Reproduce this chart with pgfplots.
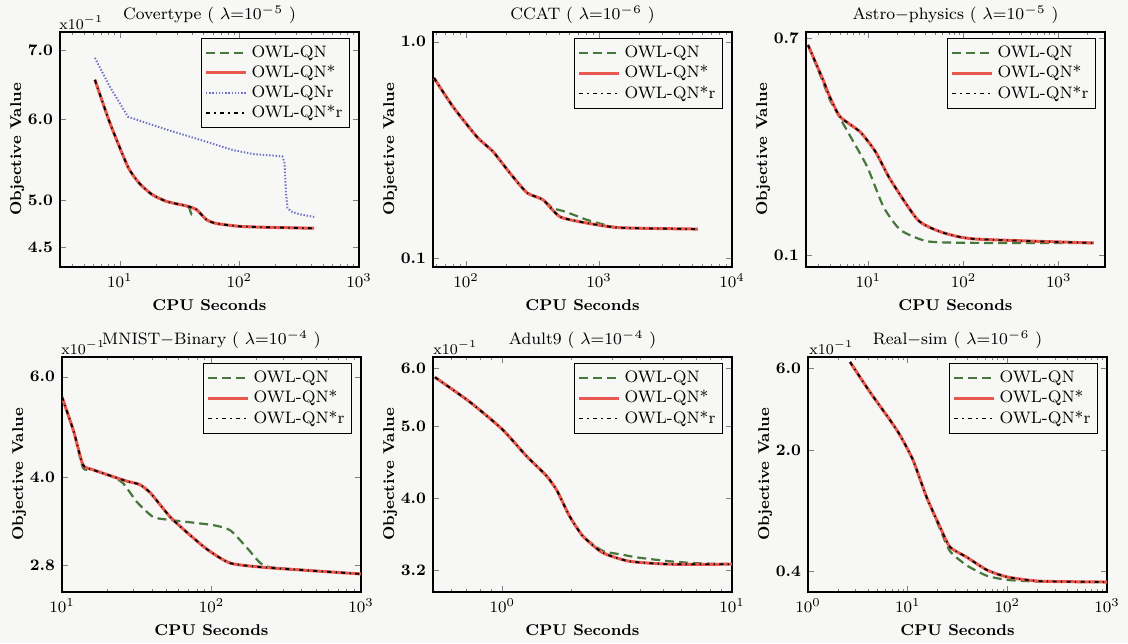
\documentclass[border=0pt]{standalone}
\usepackage{fix-cm}
\usepackage{fontspec}
\usepackage{pgfplots}
\pgfplotsset{compat=1.18}
\newcommand\fsz[1]{\fontsize{#1}{#1}\selectfont}
\definecolor{cgreen}{RGB}{70,120,60}
\definecolor{cred}{RGB}{232,88,78}
\definecolor{cblue}{RGB}{110,115,195}
\definecolor{bgc}{RGB}{247,247,245}
\pgfplotsset{
  every axis/.append style={
    scale only axis, width=149.5pt, height=117.5pt,
    anchor=south west, axis line style={line width=0.8pt},
    major tick length=3pt, minor tick length=1.6pt,
    yminorticks=false,
    tick label style={font=\fsz{8}},
    yticklabel style={font=\fsz{8}\bfseries},
    label style={font=\fsz{7.8}\bfseries},
    xlabel={CPU Seconds}, ylabel={Objective Value},
    ylabel style={yshift=-5pt},
    xlabel style={yshift=1pt},
    title style={font=\fsz{8.3}, yshift=-5.5pt},
    legend style={at={(1,1)}, anchor=north east, xshift=-4.5pt, yshift=-3pt, draw=black, line width=0.6pt, font=\fsz{8.3}, inner sep=1.5pt, row sep=-1.5pt, cells={anchor=west}, fill=bgc},
    legend image code/.code={\draw[##1] (0pt,0pt) -- (20pt,0pt);},
  },
}
\tikzset{
  gs/.style={cgreen, line width=1.1pt, dash pattern=on 4.5pt off 2.5pt, smooth, tension=0.35},
  rs/.style={cred, line width=1.5pt, smooth, tension=0.35},
  bs/.style={cblue, line width=1pt, dash pattern=on 0.7pt off 0.9pt},
  ks/.style={black, line width=0.9pt, dash pattern=on 2pt off 2.2pt on 0.6pt off 2.2pt, smooth, tension=0.35},
  xt/.style={anchor=south west, inner sep=0.5pt, font=\fsz{7.5}},
}
\begin{document}
\begin{tikzpicture}
\useasboundingbox (0,0) rectangle (564pt,321.5pt);
\fill[bgc] (0,0) rectangle (564pt,321.5pt);
% Covertype
\begin{axis}[xmode=log, ymode=log, at={(30pt,188pt)}, xmin=3.16, xmax=1000, ymin=4.31, ymax=7.29,
  ytick={4.5,5,6,7}, yticklabels={4.5,5.0,6.0,7.0}, xtick={10,100,1000},
  minor xtick={4,5,6,7,8,9,20,30,40,50,60,70,80,90,200,300,400,500,600,700,800,900},
  title={Covertype ( $\lambda{=}10^{-5}$ )}]
\addplot[gs] coordinates {(6.19,6.55) (8.25,5.95) (11.7,5.39) (14.5,5.2) (18.5,5.07) (24.6,4.99) (36.1,4.94) (38,4.92) (39.8,4.85) (42,4.89) (43.8,4.90) (53.1,4.79) (64.3,4.75) (100,4.72) (168,4.71) (422,4.70)};
\addplot[rs] coordinates {(6.19,6.55) (8.25,5.95) (11.7,5.39) (14.5,5.2) (18.5,5.07) (24.6,4.99) (36.1,4.94) (43.8,4.90) (53.1,4.79) (64.3,4.75) (100,4.72) (168,4.71) (422,4.70)};
\addplot[bs] coordinates {(6.19,6.88) (8.25,6.45) (11.7,6.03) (24.6,5.86) (46.4,5.73) (87.5,5.60) (128,5.55) (228,5.52) (238,5.45) (245,5.10) (252,4.92) (270,4.88) (316,4.85) (422,4.82)};
\addplot[ks] coordinates {(6.19,6.55) (8.25,5.95) (11.7,5.39) (14.5,5.2) (18.5,5.07) (24.6,4.99) (36.1,4.94) (43.8,4.90) (53.1,4.79) (64.3,4.75) (100,4.72) (168,4.71) (422,4.70)};
\legend{OWL-QN,OWL-QN*,OWL-QNr,OWL-QN*r}
\end{axis}
\node[xt] at (29pt,188.5pt+117.5pt) {x10$^{-1}$};
% CCAT
\begin{axis}[xmode=log, ymode=log, at={(216.5pt,188pt)}, xmin=56.5, xmax=10000, ymin=0.0908, ymax=1.11,
  ytick={0.1,1}, yticklabels={0.1,1.0}, xtick={100,1000,10000},
  minor xtick={60,70,80,90,200,300,400,500,600,700,800,900,2000,3000,4000,5000,6000,7000,8000,9000},
  title={CCAT ( $\lambda{=}10^{-6}$ )}]
\addplot[gs] coordinates {(57.5,0.68) (80,0.50) (121,0.363) (160,0.31) (214,0.247) (288,0.200) (379,0.186) (450,0.17) (535,0.165) (650,0.158) (813,0.150) (1072,0.143) (1439,0.138) (5546,0.136)};
\addplot[rs] coordinates {(57.5,0.68) (80,0.50) (121,0.363) (160,0.31) (214,0.247) (288,0.200) (379,0.186) (509,0.155) (813,0.145) (1439,0.138) (5546,0.136)};
\addplot[ks] coordinates {(57.5,0.68) (80,0.50) (121,0.363) (160,0.31) (214,0.247) (288,0.200) (379,0.186) (509,0.155) (813,0.145) (1439,0.138) (5546,0.136)};
\legend{OWL-QN,OWL-QN*,OWL-QN*r}
\end{axis}
% Astro-physics
\begin{axis}[xmode=log, ymode=log, at={(403pt,188pt)}, xmin=2.21, xmax=3070, ymin=0.0898, ymax=0.738,
  ytick={0.1,0.7}, yticklabels={0.1,0.7}, xtick={10,100,1000},
  minor xtick={3,4,5,6,7,8,9,20,30,40,50,60,70,80,90,200,300,400,500,600,700,800,900,2000,3000},
  title={Astro$-$physics ( $\lambda{=}10^{-5}$ )}]
\addplot[gs] coordinates {(2.32,0.657) (3.34,0.47) (3.96,0.40) (5.06,0.34) (6.45,0.29) (9.75,0.22) (14.4,0.154) (21.8,0.125) (42,0.113) (129,0.1115) (2340,0.1114)};
\addplot[rs] coordinates {(2.32,0.657) (3.34,0.48) (3.96,0.41) (5.06,0.345) (8.23,0.301) (11.9,0.252) (17.1,0.196) (33,0.137) (57.8,0.123) (129,0.1155) (2340,0.1114)};
\addplot[ks] coordinates {(2.32,0.657) (3.34,0.48) (3.96,0.41) (5.06,0.345) (8.23,0.301) (11.9,0.252) (17.1,0.196) (33,0.137) (57.8,0.123) (129,0.1155) (2340,0.1114)};
\legend{OWL-QN,OWL-QN*,OWL-QN*r}
\end{axis}
% MNIST-Binary
\begin{axis}[xmode=log, ymode=log, at={(31pt,25.5pt)}, xmin=10, xmax=1000, ymin=2.51, ymax=6.50,
  ytick={2.8,4,6}, yticklabels={2.8,4.0,6.0}, xtick={10,100,1000},
  minor xtick={20,30,40,50,60,70,80,90,200,300,400,500,600,700,800,900},
  title={MNIST$-$Binary ( $\lambda{=}10^{-4}$ )}]
\addplot[gs] coordinates {(10,5.53) (12,4.8) (13.8,4.15) (16,4.12) (21,4.02) (25.6,3.9) (31.8,3.61) (40.8,3.40) (53,3.36) (103,3.29) (134,3.22) (175,2.99) (213,2.82) (260,2.77) (1000,2.70)};
\addplot[rs] coordinates {(10,5.53) (12,4.8) (13.8,4.2) (16,4.12) (21,4.02) (27.3,3.93) (33,3.88) (39,3.75) (53,3.40) (69,3.19) (94,2.98) (134,2.82) (238,2.77) (1000,2.70)};
\addplot[ks] coordinates {(10,5.53) (12,4.8) (13.8,4.2) (16,4.12) (21,4.02) (27.3,3.93) (33,3.88) (39,3.75) (53,3.40) (69,3.19) (94,2.98) (134,2.82) (238,2.77) (1000,2.70)};
\legend{OWL-QN,OWL-QN*,OWL-QN*r}
\end{axis}
\node[xt] at (30pt,26pt+117.5pt) {x10$^{-1}$};
% Adult9
\begin{axis}[xmode=log, ymode=log, at={(216.5pt,25.5pt)}, xmin=0.5, xmax=10, ymin=2.99, ymax=6.21,
  ytick={3.2,4,5,6}, yticklabels={3.2,4.0,5.0,6.0}, xtick={1,10},
  minor xtick={0.6,0.7,0.8,0.9,2,3,4,5,6,7,8,9},
  title={Adult9 ( $\lambda{=}10^{-4}$ )}]
\addplot[gs] coordinates {(0.51,5.83) (0.723,5.40) (1.0,4.96) (1.278,4.56) (1.56,4.29) (1.73,4.10) (1.96,3.79) (2.24,3.56) (2.73,3.40) (3.3,3.36) (3.85,3.33) (5.33,3.29) (7,3.27) (10,3.26)};
\addplot[rs] coordinates {(0.51,5.83) (0.723,5.40) (1.0,4.96) (1.278,4.56) (1.56,4.29) (1.73,4.10) (1.96,3.79) (2.24,3.56) (2.73,3.38) (3.57,3.29) (5.33,3.26) (10,3.26)};
\addplot[ks] coordinates {(0.51,5.83) (0.723,5.40) (1.0,4.96) (1.278,4.56) (1.56,4.29) (1.73,4.10) (1.96,3.79) (2.24,3.56) (2.73,3.38) (3.57,3.29) (5.33,3.26) (10,3.26)};
\legend{OWL-QN,OWL-QN*,OWL-QN*r}
\end{axis}
\node[xt] at (216pt,26pt+117.5pt) {x10$^{-1}$};
% Real-sim
\begin{axis}[xmode=log, ymode=log, at={(404pt,25.5pt)}, xmin=1, xmax=1000, ymin=0.302, ymax=6.95,
  ytick={0.4,2,6}, yticklabels={0.4,2.0,6.0}, xtick={1,10,100,1000},
  minor xtick={2,3,4,5,6,7,8,9,20,30,40,50,60,70,80,90,200,300,400,500,600,700,800,900},
  title={Real$-$sim ( $\lambda{=}10^{-6}$ )}]
\addplot[gs] coordinates {(2.64,6.5) (4.19,4.35) (6.64,3.0) (8.37,2.45) (11.3,1.76) (15.5,1.07) (21.1,0.70) (26.6,0.52) (39.3,0.43) (62.4,0.375) (100,0.355) (212,0.347) (1000,0.345)};
\addplot[rs] coordinates {(2.64,6.5) (4.19,4.35) (6.64,3.0) (8.37,2.45) (11.3,1.76) (15.5,1.07) (21.1,0.72) (26.6,0.55) (39.3,0.48) (62.4,0.405) (100,0.369) (212,0.349) (1000,0.345)};
\addplot[ks] coordinates {(2.64,6.5) (4.19,4.35) (6.64,3.0) (8.37,2.45) (11.3,1.76) (15.5,1.07) (21.1,0.72) (26.6,0.55) (39.3,0.48) (62.4,0.405) (100,0.369) (212,0.349) (1000,0.345)};
\legend{OWL-QN,OWL-QN*,OWL-QN*r}
\end{axis}
\node[xt] at (404pt,26pt+117.5pt) {x10$^{-1}$};
\end{tikzpicture}
\end{document}
